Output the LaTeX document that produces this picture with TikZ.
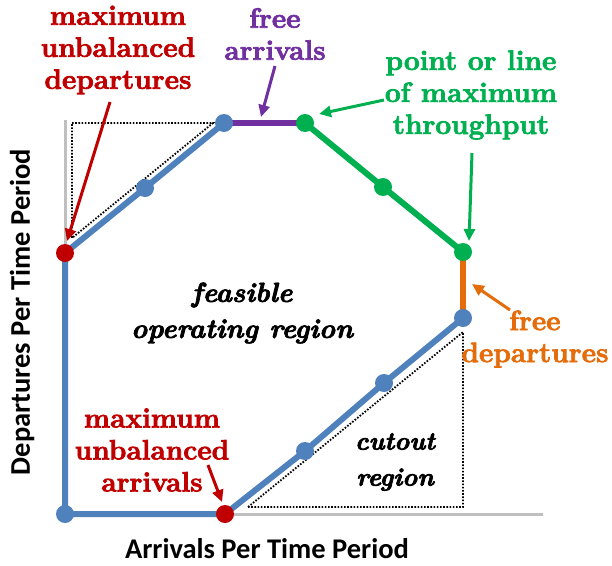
\documentclass[tikz,border=0pt]{standalone}
\usepackage{fontspec}
\newfontfamily\calib{Carlito}
\usetikzlibrary{arrows.meta}
\definecolor{cblue}{HTML}{4F81BD}
\definecolor{cred}{HTML}{C00000}
\definecolor{cpurple}{HTML}{7030A0}
\definecolor{cgreen}{HTML}{00B050}
\definecolor{corange}{HTML}{E46C0A}
\definecolor{cgray}{HTML}{BFBFBF}
\newcommand\heavytext[1]{\special{pdf:literal direct 2 Tr 0.7 w}#1\special{pdf:literal direct 0 Tr}}
\tikzset{
  dot/.style={circle, fill=#1, inner sep=0pt, minimum size=18pt},
  seg/.style={line width=6pt, draw=#1},
  lbl/.style={align=center, text=#1, font=\bfseries\fontsize{28}{32}\selectfont, inner sep=0pt},
  ital/.style={align=center, font=\bfseries\itshape\fontsize{#1}{36}\selectfont, inner sep=0pt},
  pointer/.style={draw=#1, line width=3pt, -{Triangle[length=12pt,width=11pt]}},
  cut/.style={draw=black, line width=1.8pt, dash pattern=on 1.6pt off 1.6pt},
  axis/.style={draw=cgray, line width=3pt},
  axlbl/.style={font=\calib\bfseries\fontsize{28.5}{30}\selectfont, inner sep=0pt}
}
\begin{document}
\begin{tikzpicture}[x=1pt,y=-1pt]
\useasboundingbox (0,0) rectangle (612,565);
% points
\coordinate (o) at (65,514);
\coordinate (ua) at (225,514);
\coordinate (b1) at (305,451);
\coordinate (b2) at (384,383);
\coordinate (b3) at (463,318);
\coordinate (g1) at (463,252);
\coordinate (g2) at (383,187);
\coordinate (g3) at (305,123);
\coordinate (t1) at (224,123);
\coordinate (t2) at (145,188);
\coordinate (ud) at (65,253);
% axes
\draw[axis] (65,120) -- (ud);
\draw[axis] (ua) -- (543,514);
% dotted regions
\draw[cut] (72,123) -- (213,123) -- (72,238) -- cycle;
\draw[cut] (248,507) -- (463,507) -- (463,332) -- cycle;
% boundary
\draw[seg=cblue] (ud) -- (o) -- (ua) -- (b1) -- (b2) -- (b3);
\draw[seg=corange] (b3) -- (g1);
\draw[seg=cgreen] (g1) -- (g2) -- (g3);
\draw[seg=cpurple] (g3) -- (t1);
\draw[seg=cblue] (t1) -- (t2) -- (ud);
% dots
\node[dot=cblue] (Do) at (o) {};
\node[dot=cred] (Dua) at (ua) {};
\node[dot=cblue] (Db1) at (b1) {};
\node[dot=cblue] (Db2) at (b2) {};
\node[dot=cblue] (Db3) at (b3) {};
\node[dot=cgreen] (Dg1) at (g1) {};
\node[dot=cgreen] (Dg2) at (g2) {};
\node[dot=cgreen] (Dg3) at (g3) {};
\node[dot=cblue] (Dt1) at (t1) {};
\node[dot=cblue] (Dt2) at (t2) {};
\node[dot=cred] (Dud) at (ud) {};
% labels
\node[lbl=cred] (Lud) at (118,50) {\heavytext{maximum\\unbalanced\\departures}};
\node[lbl=cpurple] (Lfa) at (275,34) {\heavytext{free\\arrivals}};
\node[lbl=cgreen] (Lmt) at (471,95) {\heavytext{point or line\\of maximum\\throughput}};
\node[lbl=corange] (Lfd) at (535,339) {\heavytext{free\\departures}};
\node[lbl=cred] (Lua) at (152,450) {\heavytext{maximum\\unbalanced\\arrivals}};
\node[ital=27.5] (Lfe) at (242,313) {\heavytext{feasible\\operating region}};
\node[ital=25.5] (Lcu) at (395,462) {\heavytext{cutout\\region}};
\node[axlbl] (Lx) at (267,549) {Arrivals Per Time Period};
\node[axlbl, rotate=90] (Ly) at (22,312) {Departures Per Time Period};
% arrow ends
\coordinate (a1s) at (110,102); \coordinate (a1e) at (67,241);
\coordinate (a2s) at (275,66);  \coordinate (a2e) at (261,117);
\coordinate (a3s) at (384,100); \coordinate (a3e) at (319,114);
\coordinate (a4s) at (472,153); \coordinate (a4e) at (469,241);
\coordinate (a5s) at (510,310); \coordinate (a5e) at (472,284);
\coordinate (a6s) at (208,465); \coordinate (a6e) at (222,502);
\draw[pointer=cred] (a1s) -- (a1e);
\draw[pointer=cpurple] (a2s) -- (a2e);
\draw[pointer=cgreen] (a3s) -- (a3e);
\draw[pointer=cgreen] (a4s) -- (a4e);
\draw[pointer=corange] (a5s) -- (a5e);
\draw[pointer=cred] (a6s) -- (a6e);
\end{tikzpicture}
\end{document}
